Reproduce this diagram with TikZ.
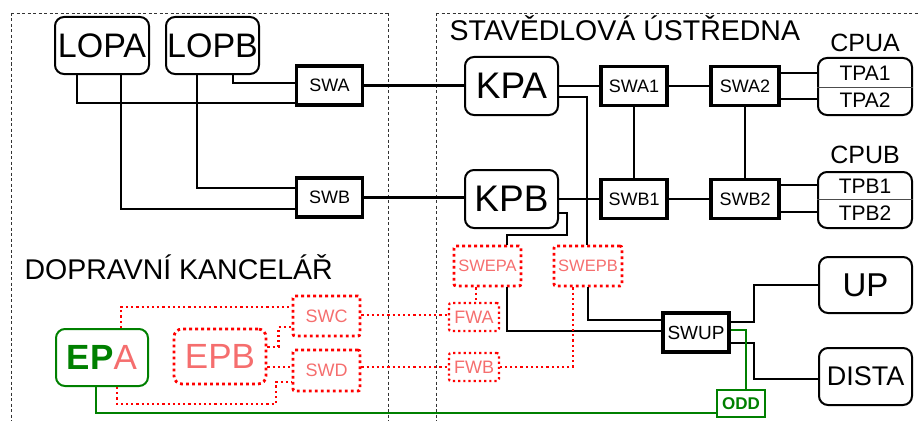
\documentclass[tikz,border=0pt]{standalone}
\usepackage{fontspec}
\setmainfont{Liberation Sans}
\definecolor{dgreen}{RGB}{0,128,0}
\definecolor{lred}{RGB}{245,110,110}
\begin{document}
\begin{tikzpicture}[x=1pt,y=-1pt,
  fs/.style={font=\fontsize{#1}{#1}\selectfont},
  rbox/.style={draw,line width=2pt,rounded corners=9pt,minimum width=#1,inner sep=0pt},
  swbox/.style={draw,line width=3.4pt,minimum width=66pt,minimum height=39pt,inner sep=0pt,fs=18},
  rdot/.style={draw=red,line width=2.8pt,dash pattern=on 2.8pt off 3.2pt},
  rline/.style={draw=red,line width=2.2pt,dash pattern=on 2.2pt off 3pt},
  conn/.style={line width=2.2pt},
  gconn/.style={draw=dgreen,line width=2.2pt},
  region/.style={draw=black!80,line width=0.8pt,dash pattern=on 3pt off 2.5pt}]
\useasboundingbox (0,0) rectangle (920,420);
% regions
\draw[region] (11,13) -- (388,13);
\draw[region] (11,13) -- (11,425);
\draw[region] (388,13) -- (388,425);
\draw[region] (436,13) -- (925,13);
\draw[region] (436,13) -- (436,425);
\node[fs=28.5,anchor=west] (t1) at (446,28) {STAVĚDLOVÁ ÚSTŘEDNA};
\node[fs=28.5,anchor=west] (t2) at (21,267) {DOPRAVNÍ KANCELÁŘ};
% nodes
\node[rbox=94pt,minimum height=57pt,fs=34] (LOPA) at (102,45.5) {LOPA};
\node[rbox=93pt,minimum height=57pt,fs=34] (LOPB) at (212.5,45.5) {LOPB};
\node[swbox] (SWA) at (329.5,85.5) {SWA};
\node[swbox] (SWB) at (329.5,197.5) {SWB};
\node[rbox=93pt,minimum height=58pt,fs=37] (KPA) at (511.5,86) {KPA};
\node[rbox=93pt,minimum height=58pt,fs=37] (KPB) at (511.5,199) {KPB};
\node[swbox] (SWA1) at (634,86) {SWA1};
\node[swbox,minimum width=68pt] (SWA2) at (745,86) {SWA2};
\node[swbox] (SWB1) at (634,199) {SWB1};
\node[swbox,minimum width=68pt] (SWB2) at (745,199) {SWB2};
\node[rbox=94pt,minimum height=57pt] (CPUA) at (865,86.5) {};
\draw[line width=0.6pt,black!70] (CPUA.west |- 0,87) -- (CPUA.east |- 0,87);
\node[fs=21] (TPA1) at (865,73) {TPA1};
\node[fs=21] (TPA2) at (865,100) {TPA2};
\node[fs=25] (cpua) at (865,43) {CPUA};
\node[rbox=94pt,minimum height=56pt] (CPUB) at (865,200) {};
\draw[line width=0.6pt,black!70] (CPUB.west |- 0,199) -- (CPUB.east |- 0,199);
\node[fs=21] (TPB1) at (865,186) {TPB1};
\node[fs=21] (TPB2) at (865,213) {TPB2};
\node[fs=25] (cpub) at (865,155) {CPUB};
\node[rbox=93pt,minimum height=56pt,fs=33] (UP) at (865.5,285) {UP};
\node[rbox=93pt,minimum height=57pt,fs=27] (DISTA) at (865.5,376.5) {DISTA};
\node[swbox,line width=3.8pt,fs=19] (SWUP) at (696,332.5) {SWUP};
\node[draw=dgreen,line width=2pt,minimum width=48pt,minimum height=27pt,inner sep=0pt,text=dgreen,font={\fontsize{17}{17}\selectfont\bfseries}] (ODD) at (741,403.5) {ODD};
% red dotted
\node[rdot,minimum width=67pt,minimum height=40pt,inner sep=0pt,rounded corners=2pt,text=lred,fs=16.5] (SWEPA) at (487.5,266) {SWEPA};
\node[rdot,minimum width=68pt,minimum height=40pt,inner sep=0pt,rounded corners=2pt,text=lred,fs=16.5] (SWEPB) at (588,266) {SWEPB};
\node[rline,minimum width=50pt,minimum height=28pt,inner sep=0pt,rounded corners=2pt,text=lred,fs=18] (FWA) at (474,317) {FWA};
\node[rline,minimum width=50pt,minimum height=28pt,inner sep=0pt,rounded corners=2pt,text=lred,fs=18] (FWB) at (474,367) {FWB};
\node[rdot,minimum width=67pt,minimum height=40pt,inner sep=0pt,rounded corners=2pt,text=lred,fs=18] (SWC) at (326.5,316) {SWC};
\node[rdot,minimum width=67pt,minimum height=41pt,inner sep=0pt,rounded corners=2pt,text=lred,fs=18] (SWD) at (326.5,370.5) {SWD};
\node[rdot,minimum width=92pt,minimum height=55pt,inner sep=0pt,rounded corners=8pt,text=lred,fs=35] (EPB) at (220,356.5) {EPB};
\node[draw=dgreen,line width=2pt,rounded corners=9pt,minimum width=92pt,minimum height=57pt,inner sep=0pt,fs=35] (EPA) at (102,357.5) {{\color{dgreen}\bfseries EP}{\color{lred}A}};
% black connectors
\draw[conn] ([xshift=-25pt]LOPA.south) |- ([yshift=-17.5pt]SWA.west);
\draw[conn] ([xshift=19pt]LOPA.south) |- ([yshift=-11.5pt]SWB.west);
\draw[conn] ([xshift=-15.5pt]LOPB.south) |- ([yshift=9.5pt]SWB.west);
\draw[conn] ([xshift=20.5pt]LOPB.south) |- ([yshift=2.5pt]SWA.west);
\draw[conn] (SWA.east) -- (SWA.east -| KPA.west);
\draw[conn] (SWB.east) -- (SWB.east -| KPB.west);
\draw[conn] (KPA.east) -- (KPA.east -| SWA1.west);
\draw[conn] (KPB.east) -- (KPB.east -| SWB1.west);
\draw[conn] (SWA1) -- (SWA2);
\draw[conn] (SWB1) -- (SWB2);
\draw[conn] (SWA1.south) -- (SWB1.north);
\draw[conn] (SWA2.south) -- (SWB2.north);
\draw[conn] ([yshift=13pt]SWA2.east) -- ([yshift=13pt]SWA2.east -| CPUA.west);
\draw[conn] ([yshift=-13pt]SWA2.east) -- ([yshift=-13pt]SWA2.east -| CPUA.west);
\draw[conn] ([yshift=14pt]SWB2.east) -- ([yshift=14pt]SWB2.east -| CPUB.west);
\draw[conn] ([yshift=-13pt]SWB2.east) -- ([yshift=-13pt]SWB2.east -| CPUB.west);
\draw[conn] ([yshift=-11pt]KPA.east) -| ([xshift=-1pt]SWEPB.north);
\coordinate (k1) at (567,235);
\draw[conn] ([yshift=-14pt]KPB.east) -| (k1) -| ([xshift=19.5pt]SWEPA.north);
\draw[conn] ([xshift=19.5pt]SWEPA.south) |- ([yshift=1.5pt]SWUP.west);
\draw[conn] (SWEPB.south) |- ([yshift=12.5pt]SWUP.west);
\draw[conn] ([yshift=10.5pt]SWUP.east) -- ++(23,0) |- (UP.west);
\draw[conn] ([yshift=-10.5pt]SWUP.east) -- ++(23,0) |- ([yshift=-2.5pt]DISTA.west);
% green
\draw[gconn] ([yshift=2.5pt]SWUP.east) -| ([xshift=5pt]ODD.north);
\draw[gconn] ([yshift=-9.5pt]ODD.west) -| ([xshift=-6pt]EPA.south);
% red dotted connectors
\draw[rline] ([xshift=-11.5pt]SWEPA.south) -- ([xshift=-11.5pt]SWEPA.south |- FWA.north);
\draw[rline] ([xshift=-15pt]SWEPB.south) |- (FWB.east);
\draw[rline] ([xshift=19pt]EPA.north) |- ([yshift=9pt]SWC.west);
\draw[rline] ([yshift=9.5pt]EPB.east) -- ++(11,0) |- ([yshift=-11pt]SWC.west);
\draw[rline] ([yshift=-10.5pt]EPB.east) -- ([yshift=-10.5pt]EPB.east -| SWD.west);
\coordinate (r1) at (276,404);
\draw[rline] ([xshift=15pt]EPA.south) |- (r1) |- ([yshift=-11.5pt]SWD.west);
\draw[rline] ([yshift=1pt]SWC.east) -- ([yshift=1pt]SWC.east -| FWA.west);
\draw[rline] ([yshift=3.5pt]SWD.east) -- ([yshift=3.5pt]SWD.east -| FWB.west);
\end{tikzpicture}
\end{document}
